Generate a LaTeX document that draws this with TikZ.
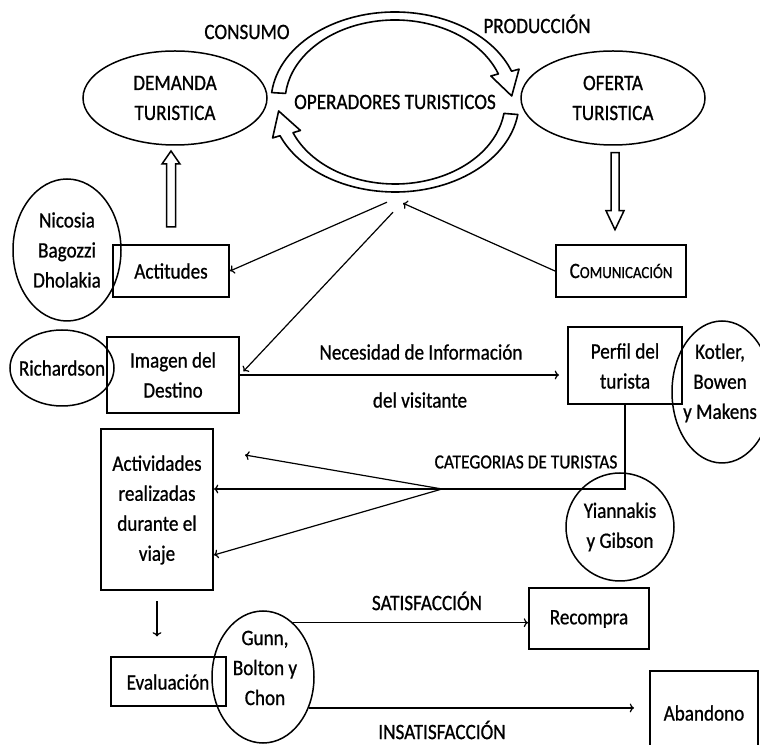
\documentclass[tikz,border=0pt]{standalone}
\usepackage{fontspec}
\setmainfont[FakeStretch=0.87, FakeBold=0.8]{Carlito}
\usepackage{tikz}
\usetikzlibrary{positioning,arrows.meta,shapes.geometric,calc}

\begin{document}
\begin{tikzpicture}[x=1pt, y=1pt,
  font=\fontsize{22}{30}\selectfont,
  box/.style={rectangle, draw, line width=2pt, align=center, inner sep=0pt},
  oval/.style={ellipse, draw, line width=1.5pt, inner sep=0pt},
  arrow/.style={->, line width=1.2pt},
  hollow/.style={draw, line width=1.5pt, fill=white},
  bent/.style={draw, line width=1.6pt, line join=round},
  lbl/.style={inner sep=0pt}
]
  \useasboundingbox (0,0) rectangle (760,744);
  \clip (0,0) rectangle (760,744);

  % top row
  \node[oval, minimum width=184pt, minimum height=94pt,
        label={[align=center]center:DEMANDA\\TURISTICA}] (demanda) at (175,646) {};
  \node[oval, minimum width=184pt, minimum height=94pt,
        label={[align=center]center:OFERTA\\TURISTICA}] (oferta) at (613,646) {};
  \node[lbl, ellipse, minimum width=248pt, minimum height=180pt] (oper) at (395,642) {OPERADORES TURISTICOS};
  \node[lbl] (consumo) at (247,712) {CONSUMO};
  \node[lbl] (produccion) at (537,720) {PRODUCCIÓN};

  \begin{scope}[shift={(oper.center)}]
    \draw[bent] (174:124 and 90) arc[start angle=174, end angle=20, x radius=124, y radius=90]
      -- (20:132 and 96) -- (4:117 and 86) -- (20:102 and 76) -- (20:110 and 82)
      arc[start angle=20, end angle=174, x radius=110, y radius=82] -- cycle;
    \draw[bent] (-8:124 and 90) arc[start angle=-8, end angle=-158, x radius=124, y radius=90]
      -- (-158:132 and 96) -- (-174:117 and 86) -- (-158:102 and 76) -- (-158:110 and 82)
      arc[start angle=-158, end angle=-8, x radius=110, y radius=82] -- cycle;
  \end{scope}

  % second row
  \node[box, minimum width=116pt, minimum height=52pt] (act) at (171,473) {Actitudes};
  \node[oval, minimum width=108pt, minimum height=142pt,
        label={[align=center]center:Nicosia\\Bagozzi\\Dholakia}] (nicosia) at (67,494) {};
  \node[box, minimum width=130pt, minimum height=52pt] (com) at (621,473) {C{\fontsize{17}{20}\selectfont OMUNICACIÓN}};

  \draw[hollow] ($(act.north)+(-4.5,17)$) -- ++(0,63) -- ++(-4.5,0) -- ++(9,13) -- ++(9,-13) -- ++(-4.5,0) -- ++(0,-63) -- cycle;
  \draw[hollow] ($(oferta.south)+(-2,-7)$) -- ++(0,-58) -- ++(-5,0) -- ++(9,-19) -- ++(9,19) -- ++(-5,0) -- ++(0,58) -- cycle;

  % third row
  \node[box, minimum width=132pt, minimum height=76pt] (img) at (173,369) {Imagen del\\Destino};
  \node[oval, minimum width=104pt, minimum height=76pt,
        label={center:Richardson}] (richardson) at (62,376) {};
  \node[box, minimum width=114pt, minimum height=77pt] (perfil) at (625,378) {Perfil del\\turista};
  \node[oval, minimum width=100pt, minimum height=142pt,
        label={[align=center, yshift=9pt, xshift=-2pt]center:Kotler,\\Bowen\\y Makens}] (kotler) at (722,352) {};

  \coordinate (o1) at ($(oper.south)+(-8,-10)$);
  \coordinate (o2) at ($(oper.south)+(-2,-20)$);
  \coordinate (o3) at ($(oper.south)+(8,-11)$);
  \draw[arrow] (o1) -- (act.east);
  \draw[arrow, shorten >=5pt] (o2) -- (img.east);
  \draw[arrow] (com.west) -- (o3);

  \draw[arrow, shorten >=8pt] (img.east) -- (img.east -| perfil.west);
  \node[lbl] (necesidad) at (421,392) {Necesidad de Información};
  \node[lbl] (visitante) at (420,344) {del visitante};

  % lower part
  \node[box, minimum width=112pt, minimum height=161pt] (actv) at (157,234) {Actividades\\realizadas\\durante el\\viaje};
  \node[circle, draw, line width=1.5pt, minimum size=108pt, inner sep=0pt, align=center] (yian) at (620,217) {Yiannakis\\y Gibson};

  \coordinate (hub) at (442,255);
  \coordinate (t1) at (245,289);
  \draw[line width=1.2pt] (perfil.south) |- (hub);
  \draw[arrow] (hub) -- (t1);
  \draw[arrow] (hub) -- (hub -| actv.east);
  \draw[arrow] (hub) -- ([yshift=-45pt]actv.east);
  \node[lbl, font=\fontsize{20}{24}\selectfont] (categorias) at (526,282) {CATEGORIAS DE TURISTAS};

  \node[box, minimum width=115pt, minimum height=49pt] (eval) at (168,62) {Evaluación};
  \node[oval, minimum width=102pt, minimum height=132pt,
        label={[align=center, yshift=9pt, xshift=2pt]center:Gunn,\\Bolton y\\Chon}] (gunn) at (263,67) {};
  \node[box, minimum width=120pt, minimum height=61pt] (rec) at (589,125) {Recompra};
  \node[box, minimum width=108pt, minimum height=84pt] (aban) at (704,31) {Abandono};

  \draw[arrow, shorten <=10pt, shorten >=20pt] (actv.south) -- (actv.south |- eval.north);
  \draw[arrow] (gunn.61) -- (gunn.61 -| rec.west);
  \draw[arrow, shorten >=15pt] (gunn.-34) -- (gunn.-34 -| aban.west);
  \node[lbl] (satis) at (427,143) {SATISFACCIÓN};
  \node[lbl] (insatis) at (442,14) {INSATISFACCIÓN};
\end{tikzpicture}
\end{document}
